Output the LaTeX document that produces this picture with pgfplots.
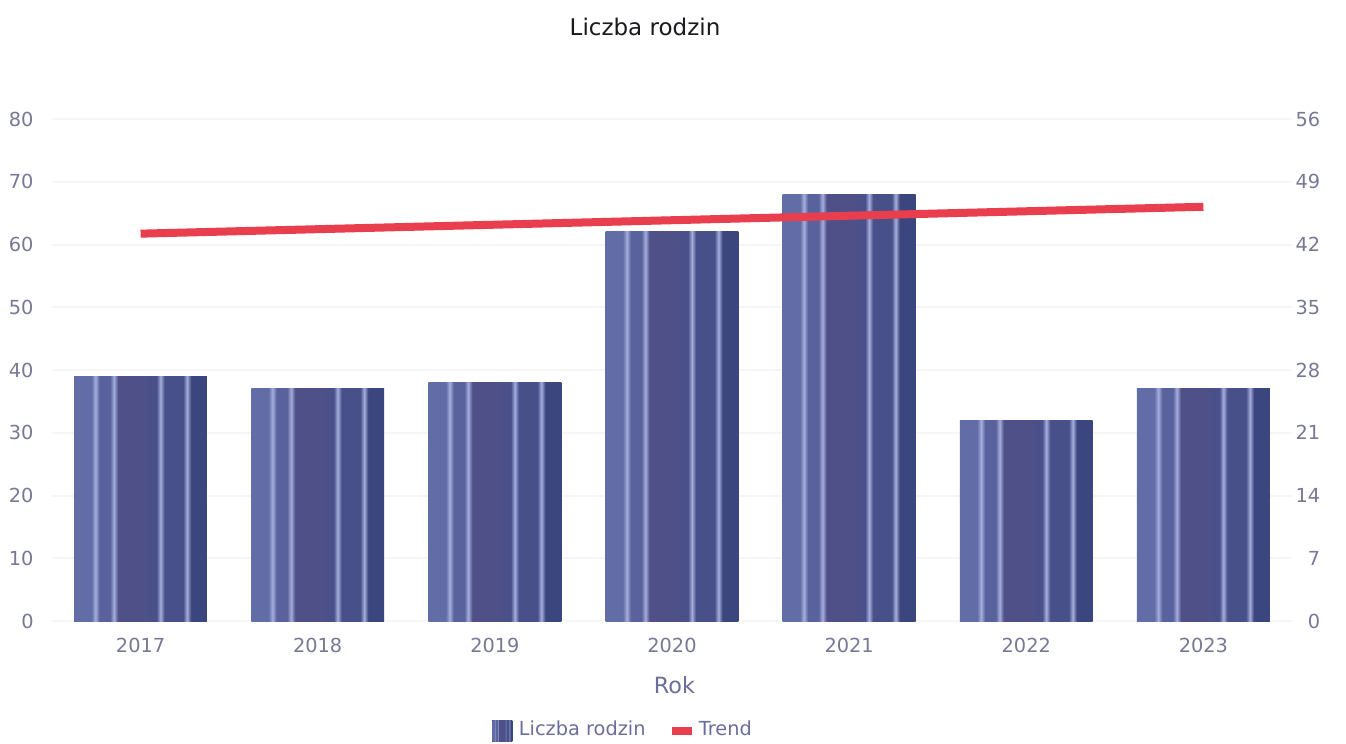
\documentclass[border=0pt]{standalone}
\usepackage{pgfplots}
\pgfplotsset{compat=1.18}
\usepackage{fontspec}
\setmainfont{DejaVu Sans}

\definecolor{tickgray}{RGB}{118,120,150}
\definecolor{labelc}{RGB}{106,111,153}
\definecolor{titlec}{RGB}{25,25,30}
\definecolor{gridc}{RGB}{246,246,249}
\definecolor{trendred}{RGB}{232,62,78}
\definecolor{bA}{RGB}{98,108,166}
\definecolor{bL}{RGB}{165,174,220}
\definecolor{bB}{RGB}{90,98,158}
\definecolor{bC}{RGB}{80,80,136}
\definecolor{bD}{RGB}{72,80,138}
\definecolor{bE}{RGB}{60,70,126}

% vertical stripes, bar width maps to 25bp..75bp
\pgfdeclarehorizontalshading{bars}{100bp}{
  color(0bp)=(bA); color(25bp)=(bA); color(31.5bp)=(bA); color(33bp)=(bL);
  color(34.5bp)=(bB); color(38.5bp)=(bB); color(40bp)=(bL); color(41.5bp)=(bC);
  color(50bp)=(bC); color(56bp)=(bD); color(57.5bp)=(bL); color(59bp)=(bD);
  color(66bp)=(bD); color(67.5bp)=(bL); color(69bp)=(bE); color(75bp)=(bE);
  color(100bp)=(bE)}

\pgfplotsset{barstyle/.style={ybar, bar width=0.75, draw=none, shading=bars}}

\begin{document}
\begin{tikzpicture}
\begin{axis}[
    scale only axis,
    width=372pt, height=150.6pt,
    xmin=-0.5, xmax=6.5,
    ymin=0, ymax=80,
    ytick={0,10,...,80},
    xtick={0,...,6},
    xticklabels={2017,2018,2019,2020,2021,2022,2023},
    axis line style={draw=none},
    major tick length=0pt,
    ymajorgrids,
    grid style={color=gridc, line width=0.6pt},
    /pgf/number format/assume math mode=true,
    tick label style={font=\fontsize{5.8}{7}\selectfont, text=tickgray},
    yticklabel style={xshift=-2pt},
    xticklabel style={yshift=-1.5pt},
    xlabel={Rok},
    xlabel style={font=\fontsize{6.7}{8}\selectfont, text=labelc,
        at={(axis description cs:0.502,0)}, anchor=center, yshift=-19.2pt},
]
% one plot per bar so that each bar gets its own stripes
\addplot[barstyle] coordinates {(0,39)};
\addplot[barstyle] coordinates {(1,37)};
\addplot[barstyle] coordinates {(2,38)};
\addplot[barstyle] coordinates {(3,62)};
\addplot[barstyle] coordinates {(4,68)};
\addplot[barstyle] coordinates {(5,32)};
\addplot[barstyle] coordinates {(6,37)};
\end{axis}

\begin{axis}[
    scale only axis,
    width=372pt, height=150.6pt,
    xmin=-0.5, xmax=6.5,
    ymin=0, ymax=56,
    ytick={0,7,...,56},
    xtick=\empty,
    yticklabel pos=right,
    axis line style={draw=none},
    major tick length=0pt,
    /pgf/number format/assume math mode=true,
    tick label style={font=\fontsize{5.8}{7}\selectfont, text=tickgray},
    yticklabel style={anchor=east, xshift=12pt},
    legend columns=2,
    legend style={draw=none, fill=none, font=\fontsize{5.8}{7}\selectfont,
        text=labelc, at={(axis description cs:0.4624,-0.219)}, anchor=center,
        /tikz/every even column/.append style={column sep=6pt}},
]
\addlegendimage{draw=none, legend image code/.code={\fill[draw=none, shading=bars] (0pt,-3.2pt) rectangle (6pt,3.2pt);}}
\addlegendentry{Liczba rodzin}
\addplot[trendred, line width=2.4pt,
    legend image code/.code={\fill[trendred, draw=none] (0pt,-1.2pt) rectangle (6pt,1.2pt);}]
    coordinates {(0,43.21) (1,43.71) (2,44.21) (3,44.71) (4,45.21) (5,45.71) (6,46.21)};
\addlegendentry{Trend}
\end{axis}

\node[font=\fontsize{6.9}{8}\selectfont, text=titlec] at (177.9pt,178.2pt) {Liczba rodzin};

\pgfresetboundingbox
\path[use as bounding box] (-15.6pt,-36.6pt) rectangle (388.2pt,186.3pt);
\end{tikzpicture}
\end{document}
